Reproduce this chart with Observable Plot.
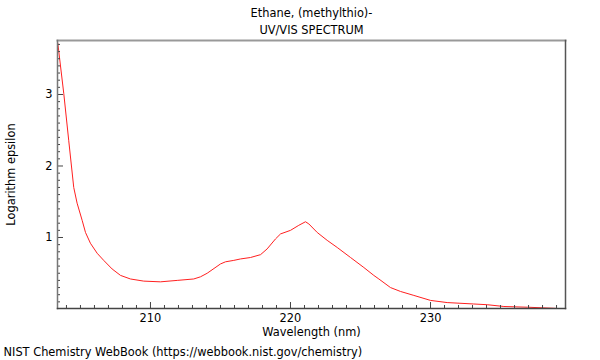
<!DOCTYPE html>
<html>
<head>
<meta charset="utf-8">
<script src="https://cdn.jsdelivr.net/npm/d3@7"></script>
<script src="https://cdn.jsdelivr.net/npm/@observablehq/plot@0.6"></script>
<style>
  html, body { margin: 0; padding: 0; background: #fff; }
</style>
</head>
<body>
<div id="chart"></div>
<script>
const titleLines = ["Ethane, (methylthio)-", "UV/VIS SPECTRUM"];
const xLabel = "Wavelength (nm)";
const yLabel = "Logarithm epsilon";
const footer = "NIST Chemistry WebBook (https://webbook.nist.gov/chemistry)";

const wavelength = [203.38, 203.81, 204.16, 204.52, 204.76, 205.12, 205.36, 205.71, 206.19, 206.66,
  207.26, 207.86, 208.57, 209.52, 210.71, 211.91, 213.09, 213.57, 214.05, 215.0,
  215.36, 215.95, 216.43, 217.14, 217.86, 218.33, 218.93, 219.29, 220.0, 220.59,
  221.07, 221.31, 221.91, 222.62, 223.34, 224.29, 225.24, 225.95, 226.31, 227.14,
  227.86, 228.81, 230.0, 231.19, 233.09, 234.05, 235.24, 236.91, 238.81, 239.6];
const logEpsilon = [3.72, 3.01, 2.36, 1.70, 1.48, 1.24, 1.07, 0.92, 0.78, 0.68,
  0.56, 0.47, 0.42, 0.39, 0.38, 0.40, 0.42, 0.45, 0.50, 0.63,
  0.66, 0.68, 0.70, 0.72, 0.76, 0.84, 0.98, 1.05, 1.10, 1.17,
  1.22, 1.19, 1.07, 0.96, 0.86, 0.72, 0.58, 0.47, 0.42, 0.30,
  0.245, 0.19, 0.12, 0.09, 0.07, 0.06, 0.035, 0.025, 0.01, 0.0];

const xDomain = [203.36, 239.64];
const yDomain = [0.007, 3.755];
const xMajorTicks = [210, 220, 230];
const xMinorTicks = d3.range(204, 240, 1).filter(v => v % 10 !== 0);
const yMajorTicks = [1, 2, 3];
const yMinorTicks = d3.range(1, 38).map(i => i / 10).filter(v => Math.abs(v - Math.round(v)) > 1e-9);

const data = wavelength.map((w, i) => ({w, v: logEpsilon[i]}));

const W = 600, H = 360;
const mL = 57, mR = 35, mT = 40, mB = 52;
const fw = W - mL - mR, fh = H - mT - mB;

const chart = Plot.plot({
  width: W, height: H,
  marginLeft: mL, marginRight: mR, marginTop: mT, marginBottom: mB,
  style: {fontFamily: "DejaVu Sans, sans-serif", fontSize: "11.4px", color: "#000", background: "#fff"},
  x: {domain: xDomain, label: null},
  y: {domain: yDomain, label: null},
  marks: [
    Plot.line(data, {x: "w", y: "v", stroke: "#ff2020", strokeWidth: 1, clip: true}),
    // inward ticks
    Plot.tickY(yMinorTicks, {y: d => d, insetRight: fw - 3, stroke: "#444"}),
    Plot.tickY(yMajorTicks, {y: d => d, insetRight: fw - 6, stroke: "#444"}),
    Plot.tickX(xMinorTicks, {x: d => d, insetTop: fh - 3, stroke: "#444"}),
    Plot.tickX(xMajorTicks, {x: d => d, insetTop: fh - 6, stroke: "#444"}),
    // tick labels
    Plot.axisX({ticks: xMajorTicks, tickSize: 0, tickPadding: 5, tickFormat: d => String(d), label: null}),
    Plot.axisY({ticks: yMajorTicks, tickSize: 0, tickPadding: 5, tickFormat: d => String(d), label: null}),
    // frame edges
    Plot.frame({anchor: "top", stroke: "#999", strokeWidth: 2}),
    Plot.frame({anchor: "right", stroke: "#555", strokeWidth: 1.5}),
    Plot.frame({anchor: "left", stroke: "#777", strokeWidth: 1.5}),
    Plot.frame({anchor: "bottom", stroke: "#444", strokeWidth: 1.5}),
    // titles and labels
    Plot.text([titleLines[0]], {text: d => d, frameAnchor: "top", lineAnchor: "middle", dy: -27, fill: "#000"}),
    Plot.text([titleLines[1]], {text: d => d, frameAnchor: "top", lineAnchor: "middle", dy: -10, fill: "#000"}),
    Plot.text([xLabel], {text: d => d, frameAnchor: "bottom", lineAnchor: "middle", dy: 24, fill: "#000"}),
    Plot.text([yLabel], {text: d => d, frameAnchor: "left", lineAnchor: "middle", textAnchor: "middle", dx: -46, rotate: -90, fill: "#000"}),
    Plot.text([footer], {text: d => d, frameAnchor: "bottom-left", lineAnchor: "middle", dx: -54, dy: 44, textAnchor: "start", fill: "#000"})
  ]
});
document.getElementById("chart").appendChild(chart);
</script>
</body>
</html>
